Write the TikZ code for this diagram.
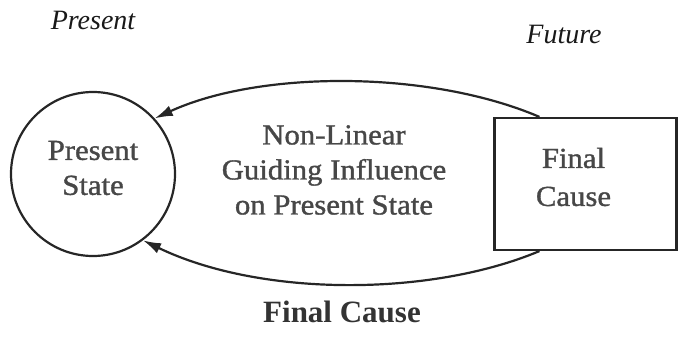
\documentclass[tikz,border=0pt]{standalone}
\usepackage{fontspec}
\setmainfont{Liberation Serif}
\newfontfamily\bodyfont[FakeStretch=1.06,FakeBold=1.2]{Liberation Serif}
\usetikzlibrary{calc,arrows.meta}
\begin{document}
\begin{tikzpicture}[x=1pt,y=-1pt,
  lbl/.style={font=\bodyfont\fontsize{29}{35}\selectfont, text=black!72, align=center, inner sep=0pt},
  era/.style={font=\itshape\fontsize{28}{34}\selectfont, text=black!90, inner sep=0pt, anchor=base},
  shapeline/.style={draw=black!85, line width=2.2pt},
  link/.style={line width=2.2pt, draw=black!85, -{Latex[length=18pt,width=11pt]}},
  ]
\useasboundingbox (0,0) rectangle (678,337);
% shapes
\node[shapeline, circle, minimum size=164pt, inner sep=0pt] (ps) at (93,174) {};
\node[shapeline, rectangle, minimum width=182pt, minimum height=132pt, inner sep=0pt] (fc) at (585.5,184) {};
% labels inside shapes
\node[lbl] (pstext) at ($(ps.center)+(0,-6)$) {Present\\State};
\node[lbl, font=\bodyfont\fontsize{29}{38}\selectfont] (fctext) at ($(fc.center)+(-12,-7)$) {Final\\Cause};
% middle text
\node[lbl] (influence) at (334,170) {Non-Linear\\Guiding Influence\\on Present State};
% era labels
\node[era] (present) at (93,30) {Present};
\node[era] (future) at (564,44) {Future};
% caption
\node[font=\bfseries\fontsize{31}{36}\selectfont, text=black!80, inner sep=0pt, anchor=base] (caption) at (342,322) {Final Cause};
% connectors
\coordinate (topstart) at ($(fc.north west)!0.25!(fc.north east)$);
\coordinate (botstart) at ($(fc.south west)!0.25!(fc.south east)$);
\draw[link] (topstart) .. controls (430,70) and (260,70) .. (ps.42);
\draw[link] (botstart) .. controls (430,297) and (260,297) .. (ps.-53);
\end{tikzpicture}
\end{document}
